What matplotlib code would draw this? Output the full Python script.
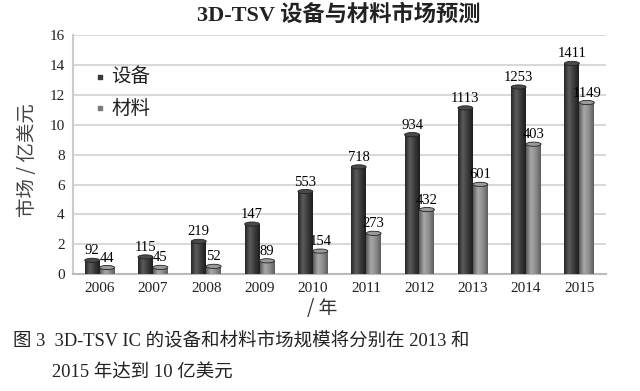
import numpy as np
import matplotlib.pyplot as plt
from matplotlib.colors import LinearSegmentedColormap
from matplotlib.patches import Ellipse

years = ['2006', '2007', '2008', '2009', '2010', '2011', '2012', '2013', '2014', '2015']
# bar heights (亿美元) as drawn, and the numbers printed above them
equipment = [0.92, 1.15, 2.19, 3.35, 5.53, 7.18, 9.34, 11.13, 12.53, 14.11]
materials = [0.44, 0.45, 0.52, 0.89, 1.54, 2.73, 4.32, 6.01, 8.7, 11.49]
equipment_labels = ['92', '115', '219', '147', '553', '718', '934', '1113', '1253', '1411']
materials_labels = ['44', '45', '52', '89', '154', '273', '432', '601', '403', '1149']

serif = ['Liberation Serif', 'Noto Sans CJK SC']
cjk = ['Noto Sans CJK SC', 'Liberation Serif']

fig = plt.figure(figsize=(6.4, 3.91), dpi=100)
ax = fig.add_axes([0.114, 0.299, 0.833, 0.611])

x = np.arange(len(years))
w = 0.28
dark = LinearSegmentedColormap.from_list('d', ['#262626', '#5c5c5c', '#3a3a3a', '#1e1e1e'])
light = LinearSegmentedColormap.from_list('l', ['#5a5a5a', '#a8a8a8', '#8c8c8c', '#5e5e5e'])
grad = np.linspace(0, 1, 50).reshape(1, -1)

bars1 = ax.bar(x - w / 2, equipment, w, color='#3a3a3a', zorder=3)
bars2 = ax.bar(x + w / 2, materials, w, color='#8a8a8a', zorder=3)
for bars, cmap, cap in [(bars1, dark, '#4a4a4a'), (bars2, light, '#9a9a9a')]:
    for b in bars:
        x0, y0 = b.get_x(), b.get_y()
        im = ax.imshow(grad, cmap=cmap, aspect='auto', zorder=4,
                       extent=[x0, x0 + b.get_width(), y0, y0 + b.get_height()])
        im.set_clip_path(b)
        ax.add_patch(Ellipse((x0 + b.get_width() / 2, y0 + b.get_height()), b.get_width(), 0.28,
                             facecolor=cap, edgecolor='#222222', linewidth=0.6, zorder=4.5))

for b, t in zip(bars1, equipment_labels):
    ax.text(b.get_x() + b.get_width() / 2, b.get_height() + 0.2, t, ha='center', va='bottom',
            fontsize=10.5, family=serif, zorder=5)
for b, t in zip(bars2, materials_labels):
    ax.text(b.get_x() + b.get_width() / 2, b.get_height() + 0.2, t, ha='center', va='bottom',
            fontsize=10.5, family=serif, zorder=5)

ax.set_xlim(-0.5, len(years) - 0.5)
ax.set_ylim(0, 16)
ax.set_yticks(range(0, 17, 2))
ax.set_xticks(x)
ax.set_xticklabels(years, family=serif, fontsize=11)
for lab in ax.get_yticklabels():
    lab.set_family(serif)
    lab.set_fontsize(11)
ax.tick_params(length=0, pad=6, colors='#222222')
ax.grid(axis='y', color='#d9d9d9', linewidth=1.5, zorder=0)
ax.set_axisbelow(True)
for s in ['top', 'right']:
    ax.spines[s].set_visible(False)
ax.spines['left'].set_color('#cccccc')
ax.spines['bottom'].set_color('#bbbbbb')
ax.spines['left'].set_linewidth(1.5)
ax.spines['bottom'].set_linewidth(1.5)

# legend
ax.scatter([0.0], [13.2], marker='s', s=12, color='#3a3a3a', zorder=5)
ax.scatter([0.0], [11.1], marker='s', s=12, color='#7a7a7a', zorder=5)
ax.text(0.22, 13.2, '设备', fontsize=14, family=cjk, va='center', color='#222222')
ax.text(0.22, 11.1, '材料', fontsize=14, family=cjk, va='center', color='#222222')

fig.text(0.53, 0.962, '3D-TSV 设备与材料市场预测', ha='center', va='center',
         fontsize=16, fontweight='bold', family=serif, color='#222222')
fig.text(0.043, 0.59, '市场 / 亿美元', rotation=90, ha='center', va='center',
         fontsize=14, family=cjk, color='#444444')
fig.text(0.503, 0.212, '/ 年', ha='center', va='center', fontsize=13.5, family=cjk, color='#333333')

fig.text(0.02, 0.125, '图 3  3D-TSV IC 的设备和材料市场规模将分别在 2013 和',
         ha='left', va='center', fontsize=13.3, family=serif, color='#222222')
fig.text(0.082, 0.046, '2015 年达到 10 亿美元', ha='left', va='center', fontsize=13.3,
         family=serif, color='#222222')

fig.savefig('out.png', dpi=100)
